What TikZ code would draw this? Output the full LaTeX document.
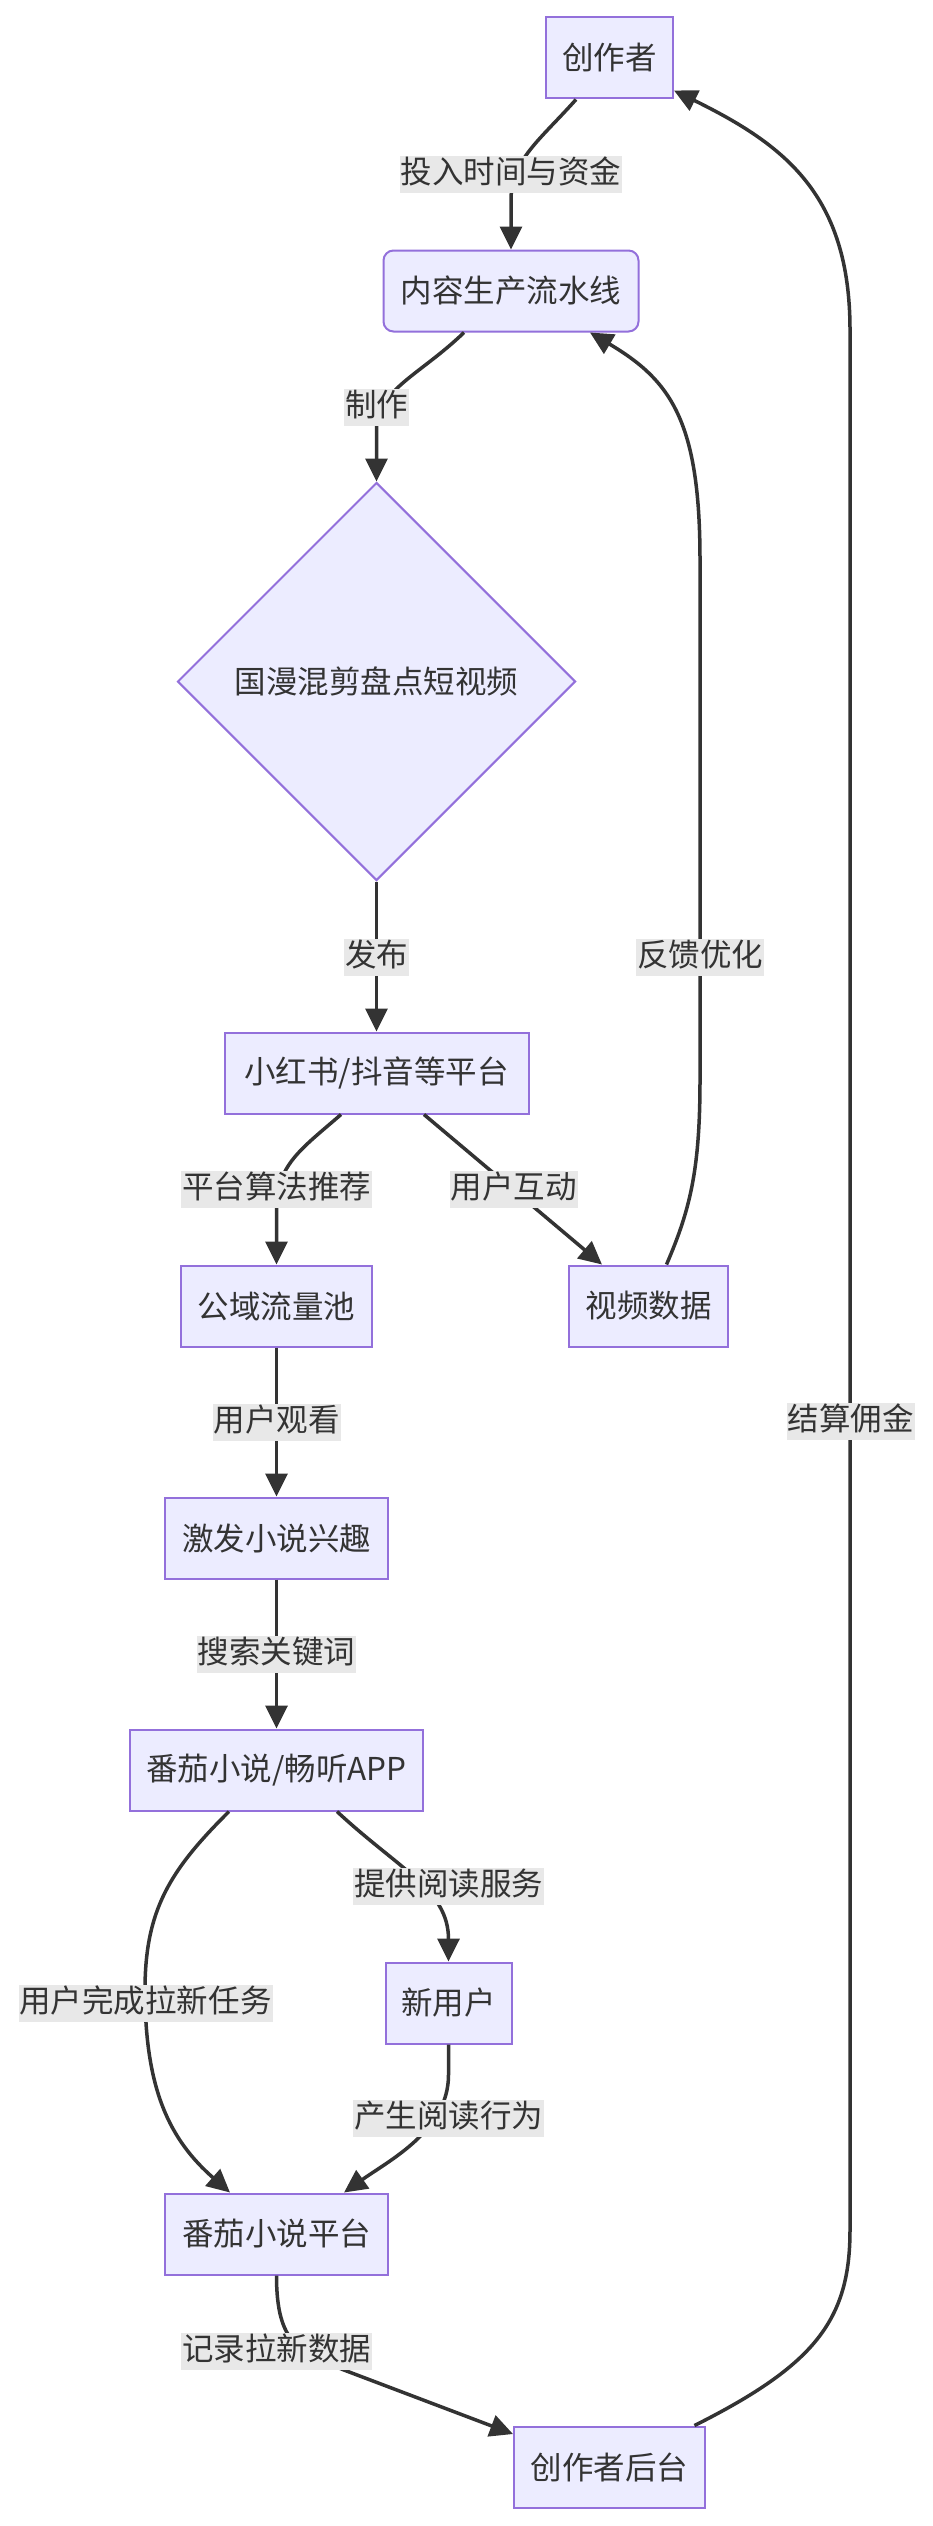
\documentclass[tikz,border=0pt]{standalone}
\usepackage{fontspec}
\setmainfont{Noto Sans CJK SC}
\usetikzlibrary{shapes.geometric,arrows.meta}
\definecolor{nodefill}{HTML}{ECECFF}
\definecolor{nodeline}{HTML}{9370DB}
\definecolor{edgecol}{HTML}{333333}
\definecolor{lblfill}{HTML}{E8E8E8}
\begin{document}
\begin{tikzpicture}[x=1pt,y=-1pt,
  font=\fontsize{31.5}{36}\selectfont, text=edgecol,
  box/.style={draw=nodeline, fill=nodefill, line width=2pt, minimum height=81pt, inner sep=0pt},
  rbox/.style={box, rounded corners=10pt},
  dia/.style={diamond, aspect=1, draw=nodeline, fill=nodefill, line width=2pt, minimum width=398pt, minimum height=398pt, inner sep=0pt},
  lbl/.style={fill=lblfill, inner xsep=1pt, inner ysep=2.5pt, text height=25pt, text depth=7pt},
  conn/.style={draw=edgecol, line width=3.5pt, -{Triangle[length=23pt,width=22pt]}},
]
\useasboundingbox[fill=white] (0,0) rectangle (932,2526);

% nodes
\node[box, minimum width=127pt] (cz) at (609.5,58) {创作者};
\node[rbox, minimum width=255pt] (nr) at (511,291) {内容生产流水线};
\node[dia] (gm) at (376.5,681.5) {国漫混剪盘点短视频};
\node[box, minimum width=304pt] (xhs) at (376.5,1073) {小红书/抖音等平台};
\node[box, minimum width=191pt] (gy) at (276.5,1306) {公域流量池};
\node[box, minimum width=159pt] (sp) at (648.5,1306) {视频数据};
\node[box, minimum width=223pt] (jf) at (276.5,1538) {激发小说兴趣};
\node[box, minimum width=293pt] (app) at (276.5,1770) {番茄小说/畅听APP};
\node[box, minimum width=126pt] (xyh) at (448.5,2003) {新用户};
\node[box, minimum width=223pt] (fq) at (276.5,2234) {番茄小说平台};
\node[box, minimum width=191pt] (hb) at (609.5,2467) {创作者后台};

% connectors
\draw[conn] ([xshift=-33.5pt]cz.south) .. controls (540,140) and (511,160) .. (511,200) -- (nr.north);
\draw[conn] ([xshift=-47pt]nr.south) .. controls (420,375) and (376.5,390) .. (376.5,430) -- (gm.north);
\draw[conn] (gm.south) -- (xhs.north);
\draw[conn] ([xshift=-35.5pt]xhs.south) .. controls (300,1150) and (276.5,1165) .. (276.5,1210) -- (gy.north);
\draw[conn] ([xshift=47.5pt]xhs.south) -- ([xshift=-46.5pt]sp.north);
\draw[conn] ([xshift=18pt]sp.north) .. controls (690,1210) and (700,1170) .. (700,1080) -- (700,560) .. controls (700,420) and (670,380) .. ([xshift=79pt]nr.south);
\draw[conn] (gy.south) -- (jf.north);
\draw[conn] (jf.south) -- (app.north);
\draw[conn] ([xshift=-47.5pt]app.south) .. controls (170,1870) and (145,1910) .. (145,1990) .. controls (145,2090) and (170,2140) .. ([xshift=-46.5pt]fq.north);
\draw[conn] ([xshift=60.5pt]app.south) .. controls (400,1870) and (448.5,1890) .. (xyh.north);
\draw[conn] (xyh.south) -- (448.5,2075) .. controls (448.5,2130) and (390,2160) .. ([xshift=67.5pt]fq.north);
\draw[conn] (fq.south) .. controls (276.5,2345) and (300,2352) .. (344,2370) -- ([yshift=-8.5pt]hb.north west);
\draw[conn] ([xshift=-11.5pt]hb.north east) .. controls (815,2365) and (850,2320) .. (850,2230) -- (850,330) .. controls (850,195) and (785,145) .. ([yshift=9pt]cz.south east);

% connector labels
\node[lbl] (l1) at (511,174.5) {投入时间与资金};
\node[lbl] (l2) at (376.5,407) {制作};
\node[lbl] (l3) at (376.5,957) {发布};
\node[lbl] (l4) at (276.5,1189) {平台算法推荐};
\node[lbl] (l5) at (513.5,1189) {用户互动};
\node[lbl] (l6) at (700,957) {反馈优化};
\node[lbl] (l7) at (276.5,1422) {用户观看};
\node[lbl] (l8) at (276.5,1654) {搜索关键词};
\node[lbl] (l9) at (145.5,2003) {用户完成拉新任务};
\node[lbl] (l10) at (448.5,1886) {提供阅读服务};
\node[lbl] (l11) at (448.5,2118) {产生阅读行为};
\node[lbl] (l12) at (276.5,2351) {记录拉新数据};
\node[lbl] (l13) at (850.5,1421) {结算佣金};
\end{tikzpicture}
\end{document}
